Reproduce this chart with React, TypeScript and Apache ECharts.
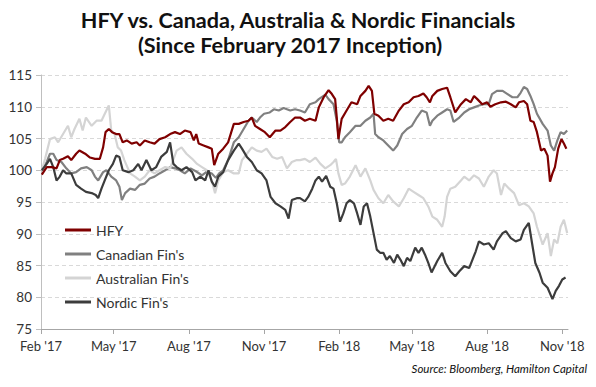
import React, { useEffect, useRef } from "react";
import * as echarts from "echarts";

// x values are days counted from 1 Feb 2017
const tickDays = [0, 89, 181, 273, 365, 454, 546, 638];
const tickLabels = ["Feb '17", "May '17", "Aug '17", "Nov '17", "Feb '18", "May '18", "Aug '18", "Nov '18"];
const seriesNames = ["HFY", "Canadian Fin's", "Australian Fin's", "Nordic Fin's"];

const hfyDays = [1,7,13,19,23,27,33,37,43,47,54,60,66,72,76,79,83,87,92,96,100,105,111,117,121,127,133,139,145,152,
  158,164,170,176,183,187,190,193,199,205,209,212,217,223,229,236,242,248,254,258,262,268,274,280,287,293,299,305,311,
  317,323,329,336,340,346,352,356,360,362,364,368,374,380,387,391,397,401,405,408,413,419,425,431,438,444,450,456,462,468,472,476,
  479,485,491,497,501,507,514,520,526,530,534,540,546,550,556,563,569,575,581,585,591,595,599,603,607,612,616,620,623,626,629,633,637,640,643];
const hfyValues = [99.3,100.5,100.5,100.3,101.6,101.8,102.2,101.6,102.6,103.1,102.6,102.0,101.8,101.8,103.6,106.0,106.5,106.0,105.7,105.7,104.4,104.7,104.2,104.4,103.9,104.7,104.4,104.2,104.9,105.2,
  105.7,106.0,105.7,106.25,106.0,104.7,105.7,104.2,103.9,103.6,103.4,100.8,102.6,103.4,104.4,107.3,107.3,107.6,107.8,108.3,107.0,106.5,106.0,105.2,106.25,106.25,106.8,107.6,108.3,
  108.3,107.8,108.1,107.8,109.9,111.5,112.6,112.0,111.2,108.3,104.9,108.1,109.4,110.7,110.4,111.7,112.5,113.3,112.5,108.9,108.6,107.8,108.1,107.8,109.4,110.4,110.7,111.5,111.7,112.1,111.5,110.7,
  111.7,112.5,112.8,113.0,111.5,109.1,110.4,111.2,110.7,111.7,111.2,110.4,110.7,110.0,110.4,110.7,110.8,110.4,109.9,110.7,110.9,110.4,107.8,107.6,106.0,103.1,103.4,102.3,98.2,99.5,100.5,103.4,104.9,104.2,103.4];

const canDays = [1,7,11,15,19,25,31,37,43,49,56,62,66,70,76,80,86,92,96,99,103,109,115,121,127,133,139,145,152,
  158,164,170,176,183,190,197,203,209,214,218,223,229,236,242,248,254,258,264,268,273,280,285,291,297,305,311,
  317,323,329,336,340,348,352,358,362,365,368,372,378,385,391,397,403,407,409,413,419,425,431,436,442,448,454,460,466,472,476,
  479,485,491,497,501,505,512,518,524,530,536,542,548,552,558,565,571,577,583,587,591,595,599,603,607,614,620,624,628,632,636,640,644];
const canValues = [100.0,101.3,102.6,102.6,101.6,101.3,100.3,99.5,99.7,100.3,100.5,100.0,99.0,98.4,99.7,100.0,99.0,98.4,97.4,95.3,96.4,97.1,96.9,97.7,97.9,98.7,99.0,99.5,100.0,
  100.5,100.3,100.0,99.5,100.3,99.8,99.2,99.8,99.5,98.8,99.5,100.0,101.6,104.4,105.2,106.5,107.8,108.3,107.6,108.3,108.9,109.1,109.6,109.4,109.8,109.4,109.6,
  109.4,109.1,110.4,110.7,111.2,111.9,111.2,110.4,107.8,104.4,104.4,105.2,106.0,107.0,107.0,107.8,108.3,108.9,105.7,105.2,104.7,103.9,103.1,103.9,105.7,106.5,107.0,108.3,109.4,109.1,107.0,
  107.8,108.6,109.1,109.6,109.4,107.6,108.3,109.1,109.6,109.9,110.2,110.4,110.4,112.0,112.5,112.5,112.0,111.5,111.5,112.2,113.1,112.8,111.7,110.4,108.9,107.3,106.25,103.9,103.1,104.7,106.0,105.7,106.25];

const ausDays = [1,5,11,17,21,27,33,37,41,47,51,55,62,68,74,80,83,86,90,94,98,102,109,115,121,127,133,139,145,152,
  158,166,172,178,185,191,197,203,209,213,217,223,229,236,242,246,252,258,264,270,276,283,289,295,301,307,313,
  317,323,329,336,342,348,354,358,361,364,368,372,378,385,391,397,403,407,413,419,425,431,438,444,450,456,462,468,474,
  479,485,491,494,497,501,507,514,518,524,530,536,542,548,554,558,563,567,573,579,585,591,597,603,607,614,620,624,628,632,636,640,644];
const ausValues = [100.0,101.8,104.9,105.2,104.4,105.7,107.0,105.2,106.5,108.1,106.25,108.3,107.0,107.8,107.8,109.4,110.2,106.25,105.7,103.6,103.1,101.6,99.5,99.0,98.4,99.0,100.0,99.5,100.0,100.5,
  100.3,103.1,103.6,102.6,101.8,101.0,100.5,100.0,98.4,96.4,98.4,99.7,100.0,99.5,99.5,101.6,102.6,103.6,103.1,102.9,103.4,102.1,101.8,102.1,100.3,101.3,101.6,
  101.6,101.8,101.3,102.0,101.0,100.3,100.8,101.3,101.8,99.5,97.7,97.9,99.0,100.8,99.0,100.3,98.4,96.9,95.6,94.8,96.1,95.1,94.3,95.6,97.1,96.6,96.1,95.6,94.3,
  92.7,92.2,91.1,92.7,95.8,97.1,97.4,98.4,99.0,98.4,99.2,98.7,97.4,99.0,100.0,99.5,96.1,97.9,97.1,96.4,94.5,94.8,94.3,93.2,91.1,88.3,90.1,86.5,89.1,88.5,91.1,92.2,90.1];

const norDays = [1,7,11,15,19,23,27,31,37,43,49,55,62,67,70,74,78,83,88,92,96,100,107,113,119,123,129,135,141,147,154,
  158,162,166,172,178,185,189,195,201,205,209,213,217,223,229,236,242,246,252,258,264,270,276,281,287,293,299,303,307,313,
  317,323,327,332,336,340,344,349,354,358,362,366,370,374,378,383,387,391,395,399,403,407,411,415,419,423,427,432,436,440,444,448,452,458,462,466,470,474,478,
  485,491,495,501,507,512,518,524,528,532,536,542,548,554,558,565,569,575,581,587,591,597,601,605,610,614,620,626,630,634,638,642];
const norValues = [100.0,101.0,101.8,100.5,98.4,99.0,100.0,99.5,99.5,97.7,97.1,96.6,96.4,96.1,95.6,97.1,98.4,100.0,101.0,102.3,102.1,100.0,99.7,100.0,101.0,100.0,101.6,100.0,100.5,102.1,102.9,
  104.4,101.0,100.5,100.0,100.5,99.7,98.4,99.0,98.4,100.0,98.2,97.4,99.0,99.7,101.6,103.1,104.2,103.4,102.1,101.3,100.0,99.5,98.4,95.8,94.8,94.3,93.75,92.4,95.3,95.6,
  95.6,95.1,95.8,97.1,98.4,99.0,98.2,99.1,97.4,97.1,94.8,91.9,93.2,94.8,95.3,94.8,93.2,91.4,94.3,94.8,92.7,90.1,87.5,87.0,87.0,85.9,86.5,85.4,86.7,85.9,84.9,86.2,85.7,87.8,87.0,87.8,86.7,85.4,83.9,
  85.7,87.0,85.4,84.1,83.3,84.1,84.9,84.6,85.9,87.2,88.8,88.3,88.5,87.5,88.8,90.1,90.4,89.3,88.8,89.1,90.6,91.7,88.5,85.4,83.9,82.3,81.5,79.7,81.0,81.8,82.8,83.1];

const colors = ["#7f0000", "#808080", "#d4d4d4", "#3c3c3c"];
const FONT = "Lato";

function pairs(days: number[], values: number[]) {
  return days.map((d, i) => [d, values[i]]);
}

export default function App() {
  const ref = useRef<HTMLDivElement>(null);
  useEffect(() => {
    if (!ref.current) return;
    const chart = echarts.init(ref.current, undefined, { renderer: "svg" });
    const allData = [
      pairs(hfyDays, hfyValues),
      pairs(canDays, canValues),
      pairs(ausDays, ausValues),
      pairs(norDays, norValues),
    ];
    chart.setOption({
      animation: false,
      backgroundColor: "#ffffff",
      grid: { left: 41, right: 28, top: 75, bottom: 58, containLabel: false },
      graphic: [
        {
          type: "text", x: 298, y: 20, scaleX: 1.08,
          style: { text: "HFY vs. Canada, Australia & Nordic Financials", font: `bold 20px ${FONT}`, fill: "#111", align: "center", verticalAlign: "middle" },
        },
        {
          type: "text", x: 290, y: 45, scaleX: 1.08,
          style: { text: "(Since February 2017 Inception)", font: `bold 20px ${FONT}`, fill: "#111", align: "center", verticalAlign: "middle" },
        },
        {
          type: "text", x: 587, y: 368,
          style: { text: "Source: Bloomberg, Hamilton Capital", font: `italic 11.5px ${FONT}`, fill: "#111", align: "right", verticalAlign: "middle" },
        },
      ],
      legend: {
        orient: "vertical",
        left: 60,
        top: 218,
        itemWidth: 26,
        itemHeight: 3,
        itemGap: 10,
        icon: "rect",
        data: seriesNames,
        textStyle: { fontFamily: FONT, fontSize: 14, color: "#333" },
      },
      xAxis: {
        type: "value",
        min: 0,
        max: 645,
        axisLine: { show: true, lineStyle: { color: "#a6a6a6", width: 1 } },
        axisTick: { show: true, customValues: tickDays, length: 5, lineStyle: { color: "#a6a6a6" } },
        axisLabel: {
          customValues: tickDays,
          margin: 10,
          fontFamily: FONT,
          fontSize: 13,
          color: "#333",
          formatter: (v: number) => {
            const i = tickDays.indexOf(Math.round(v));
            return i >= 0 ? tickLabels[i] : "";
          },
        },
        splitLine: { show: false },
      },
      yAxis: {
        type: "value",
        min: 75,
        max: 115,
        interval: 5,
        axisLine: { show: true, lineStyle: { color: "#bfbfbf", width: 1 } },
        axisTick: { show: true, length: 5, lineStyle: { color: "#bfbfbf" } },
        axisLabel: { margin: 9, fontFamily: FONT, fontSize: 13.5, color: "#333" },
        splitLine: { show: true, lineStyle: { color: "#d9d9d9", type: [4, 3], width: 1 } },
      },
      series: seriesNames.map((name, i) => ({
        name,
        type: "line",
        data: allData[i],
        symbol: "none",
        showSymbol: false,
        lineStyle: { color: colors[i], width: 2.2 },
        itemStyle: { color: colors[i] },
        z: i === 0 ? 5 : 2,
      })),
    });
    return () => chart.dispose();
  }, []);
  return <div ref={ref} style={{ width: 596, height: 387, position: "absolute", left: 0, top: 0 }} />;
}
